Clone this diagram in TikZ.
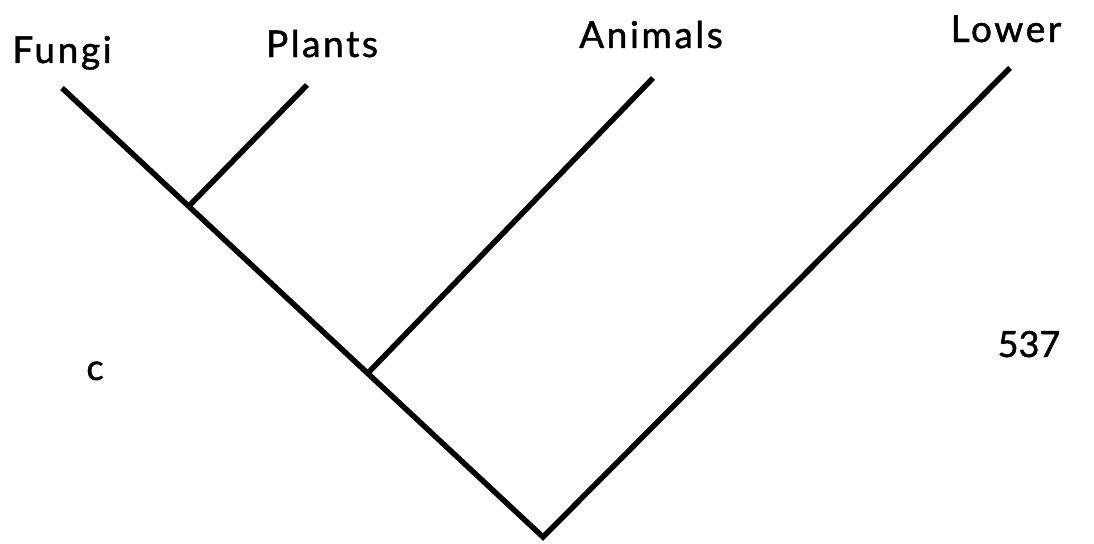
\documentclass[tikz,border=0pt]{standalone}
\usepackage{fontspec}
\newfontfamily\cladefont{Lato}[UprightFeatures={FakeBold=1.3}]
\usetikzlibrary{positioning}
\tikzset{
    branch/.style={line width=5.5pt, black, line join=miter},
    taxon/.style={font=\cladefont\fontsize{37}{40}\selectfont\addfontfeature{LetterSpace=7}, inner sep=0pt, anchor=base},
    figlabel/.style={font=\cladefont\fontsize{36}{40}\selectfont, inner sep=0pt, anchor=base},
}

\begin{document}
\begin{tikzpicture}[x=1pt, y=-1pt]
    \useasboundingbox (0,0) rectangle (1094,543);
    % Tips and junctions
    \coordinate (root) at (543,537);
    \coordinate (jAnimals) at (367,374);
    \coordinate (jPlants) at (188,207);
    \coordinate (tFungi) at (62,88);
    \coordinate (tPlants) at (307,85);
    \coordinate (tAnimals) at (653,78);
    \coordinate (tLower) at (1010,68);
    % Branches
    \draw[branch] (tFungi) -- (root) -- (tLower);
    \draw[branch] (jPlants) -- (tPlants);
    \draw[branch] (jAnimals) -- (tAnimals);
    % Labels
    \node[taxon] (lFungi) at (62,63) {Fungi};
    \node[taxon] (lPlants) at (322,57) {Plants};
    \node[taxon] (lAnimals) at (651,48) {Animals};
    \node[taxon] (lLower) at (1006,42) {Lower};
    \node[figlabel] (lc) at (95,380) {c};
    \node[figlabel] (lnum) at (1029,357) {537};
\end{tikzpicture}
\end{document}
